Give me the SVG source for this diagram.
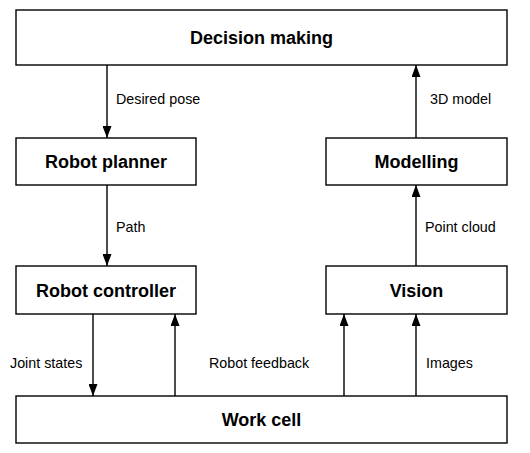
<svg xmlns="http://www.w3.org/2000/svg" width="530" height="453" viewBox="0 0 530 453">
<style>
.box{fill:#fff;stroke:#000;stroke-width:1.4}
.t{font-family:"Liberation Sans",Arial,sans-serif;font-size:18px;font-weight:bold;text-anchor:middle;fill:#000}
.l{font-family:"Liberation Sans",Arial,sans-serif;font-size:14.3px;fill:#000}
.c{stroke:#000;stroke-width:1.4;fill:none;marker-end:url(#ah)}
</style>
<defs>
<marker id="ah" viewBox="0 0 12 9" refX="12" refY="4.5" markerWidth="12" markerHeight="9" markerUnits="userSpaceOnUse" orient="auto">
<path d="M0,0 L12,4.5 L0,9 Z" fill="#000"/>
</marker>
</defs>
<rect width="530" height="453" fill="#fff"/>
<g id="connectors">
<line class="c" x1="107" y1="65" x2="107" y2="138"/>
<line class="c" x1="107" y1="185" x2="107" y2="266"/>
<line class="c" x1="416" y1="138" x2="416" y2="65"/>
<line class="c" x1="416" y1="266" x2="416" y2="185"/>
<line class="c" x1="93" y1="314" x2="93" y2="396"/>
<line class="c" x1="175" y1="396" x2="175" y2="314"/>
<line class="c" x1="344" y1="396" x2="344" y2="314"/>
<line class="c" x1="416" y1="396" x2="416" y2="314"/>
<text class="l" x="116" y="104">Desired pose</text>
<text class="l" x="430" y="104">3D model</text>
<text class="l" x="116" y="232">Path</text>
<text class="l" x="425" y="232">Point cloud</text>
<text class="l" x="10" y="368">Joint states</text>
<text class="l" x="209" y="368">Robot feedback</text>
<text class="l" x="426" y="368">Images</text>
</g>
<g id="decision">
<rect class="box" x="16" y="10" width="491" height="55"/>
<text class="t" x="261.5" y="44">Decision making</text>
</g>
<g id="planner">
<rect class="box" x="16" y="138" width="180" height="47"/>
<text class="t" x="106" y="168">Robot planner</text>
</g>
<g id="controller">
<rect class="box" x="16" y="266" width="180" height="48"/>
<text class="t" x="106" y="296.5">Robot controller</text>
</g>
<g id="modelling">
<rect class="box" x="326" y="138" width="181" height="47"/>
<text class="t" x="416.5" y="168">Modelling</text>
</g>
<g id="vision">
<rect class="box" x="326" y="266" width="181" height="48"/>
<text class="t" x="416.5" y="296.5">Vision</text>
</g>
<g id="workcell">
<rect class="box" x="16" y="396" width="491" height="47"/>
<text class="t" x="261.5" y="426">Work cell</text>
</g>
</svg>
